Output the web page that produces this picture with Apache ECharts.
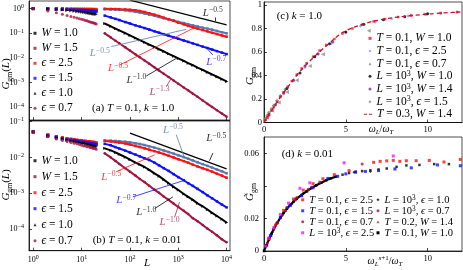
<!DOCTYPE html>
<html><head><meta charset="utf-8">
<script src="https://cdn.jsdelivr.net/npm/echarts@6/dist/echarts.min.js"></script>
<style>html,body{margin:0;padding:0;background:#fff}#c{width:463px;height:270px}</style>
</head><body><div id="c"></div>
<script>
// ================= DATA =================
// Panels (a),(b): system sizes
const L_small = [1,2,3,4,5,6,7,8,9,10,11,12,13,14,15,16,17,18,19,20];
const L_large = [30,40,50,60,80,100,130,160,200,250,320,400,500,630,800,1000,1300,1600,2000,2500,3200,4000,5000,6300,8000,10000];
const logTicksX = [1,10,100,1000,10000];
const logTicksYa = [1e-4,1e-3,1e-2,1e-1,1];
const logTicksYb = [1e-4,1e-3,1e-2,1e-1];

// (a) T=0.1, k=1.0
const a_W10_s  = [1.0,0.98,0.97,0.96,0.95,0.95,0.94,0.93,0.93,0.92,0.92,0.91,0.91,0.9,0.9,0.89,0.89,0.88,0.88,0.87];
const a_W15_s  = [1.0,0.96,0.94,0.93,0.92,0.91,0.9,0.89,0.88,0.88,0.87,0.86,0.86,0.85,0.85,0.84,0.84,0.83,0.83,0.82];
const a_e25_s  = [1.0,1.0,0.99,0.99,0.98,0.98,0.97,0.97,0.96,0.96,0.96,0.95,0.95,0.95,0.94,0.94,0.94,0.93,0.93,0.93];
const a_e15_s  = [1.0,0.99,0.97,0.95,0.93,0.91,0.9,0.88,0.87,0.86,0.85,0.84,0.83,0.82,0.81,0.8,0.79,0.78,0.77,0.76];
const a_e10_s  = [1.0,0.97,0.93,0.9,0.86,0.83,0.8,0.77,0.75,0.73,0.71,0.69,0.67,0.66,0.64,0.63,0.62,0.61,0.6,0.59];
const a_e07_s  = [1.0,0.8,0.68,0.59,0.52,0.48,0.45,0.42,0.39,0.37,0.35,0.33,0.32,0.3,0.29,0.28,0.27,0.26,0.25,0.24];
const a_e25_l  = [0.98,0.97,0.96,0.95,0.93,0.9,0.85,0.8,0.73,0.65,0.57,0.5,0.43,0.37,0.32,0.27,0.23,0.2,0.175,0.155,0.135,0.12,0.105,0.093,0.082,0.073];
const a_ref_l  = [0.95,0.93,0.91,0.89,0.85,0.8,0.74,0.69,0.63,0.57,0.51,0.46,0.41,0.37,0.33,0.29,0.26,0.235,0.21,0.19,0.17,0.155,0.14,0.125,0.11,0.1];
const a_e15_l  = [0.52,0.44,0.385,0.345,0.285,0.25,0.21,0.187,0.163,0.142,0.121,0.106,0.092,0.08,0.069,0.06,0.051,0.045,0.039,0.034,0.029,0.0253,0.022,0.019,0.0165,0.0144];
const a_e10_l  = [0.25,0.192,0.156,0.132,0.101,0.082,0.064,0.053,0.043,0.035,0.028,0.0226,0.0184,0.0148,0.0119,0.0096,0.0076,0.0062,0.0051,0.0041,0.0033,0.00265,0.00216,0.00174,0.00139,0.00113];
const a_e07_l  = [0.1,0.068,0.05,0.0395,0.027,0.02,0.0141,0.0107,0.0079,0.0059,0.0042,0.0031,0.0023,0.0017,0.00123,0.00091,0.00064,0.00049,0.00036,0.00027,0.00019,0.00014,0.000105,0.000077,0.000056,0.000042];
const a_fit    = [[100,2.2],[10000,0.22]];
const a_ptr    = [ [[5900,0.44],[5900,0.31]], [[41,0.029],[1460,0.145]], [[61,0.0052],[2170,0.169]],
                   [[5190,0.0132],[4070,0.0225]], [[218,0.00187],[910,0.0097]], [[565,0.00069],[716,0.0015]] ];
const a_lbl    = [ [5190,0.68,'−0.5'], [23.7,0.0155,'−0.5'], [56.5,0.0038,'−0.5'],
                   [6100,0.0071,'−0.7'], [136,0.0013,'−1.0'], [411,0.00043,'−1.3'] ];

// (b) T=0.1, k=0.01
const b_W10_s  = [0.053,0.043,0.038,0.035,0.033,0.032,0.031,0.030,0.029,0.029,0.028,0.028,0.027,0.027,0.026,0.026,0.026,0.025,0.025,0.025];
const b_W15_s  = [0.050,0.039,0.035,0.033,0.031,0.030,0.029,0.028,0.027,0.027,0.026,0.026,0.025,0.025,0.024,0.024,0.024,0.023,0.023,0.023];
const b_e25_s  = [0.052,0.042,0.038,0.036,0.034,0.033,0.032,0.031,0.030,0.030,0.029,0.029,0.028,0.028,0.028,0.027,0.027,0.027,0.026,0.026];
const b_e15_s  = [0.052,0.041,0.037,0.034,0.032,0.031,0.030,0.029,0.028,0.027,0.027,0.026,0.026,0.025,0.025,0.024,0.024,0.024,0.023,0.023];
const b_e10_s  = [0.052,0.040,0.036,0.033,0.031,0.029,0.028,0.027,0.026,0.025,0.025,0.024,0.023,0.023,0.022,0.022,0.021,0.021,0.021,0.020];
const b_e07_s  = [0.053,0.038,0.033,0.030,0.028,0.026,0.025,0.024,0.023,0.022,0.021,0.021,0.020,0.020,0.019,0.019,0.018,0.018,0.018,0.017];
const b_e25_l  = [0.029,0.028,0.027,0.026,0.0245,0.023,0.021,0.0195,0.018,0.0165,0.015,0.0137,0.0125,0.0112,0.0100,0.0089,0.0079,0.0071,0.0063,0.0056,0.0050,0.0045,0.0040,0.0035,0.0031,0.0027];
const b_ref_l  = [0.030,0.0295,0.029,0.0285,0.0275,0.0265,0.025,0.0237,0.0222,0.0205,0.0188,0.0172,0.0157,0.0142,0.0128,0.0115,0.0102,0.0092,0.0082,0.0073,0.0065,0.0058,0.0052,0.0046,0.0041,0.0036];
const b_e15_l  = [0.024,0.0219,0.0195,0.0178,0.0155,0.0138,0.012,0.0107,0.0095,0.0085,0.0072,0.006,0.005,0.0042,0.0034,0.0028,0.0023,0.0019,0.0016,0.00132,0.00107,0.00087,0.00072,0.00059,0.00048,0.0004];
const b_e10_l  = [0.018,0.0158,0.0138,0.0123,0.0102,0.0087,0.0072,0.0063,0.0054,0.0045,0.0036,0.003,0.0024,0.0019,0.0015,0.00123,0.00095,0.00079,0.00065,0.00052,0.00043,0.00035,0.00028,0.00023,0.000186,0.00015];
const b_e07_l  = [0.013,0.010,0.008,0.0066,0.005,0.004,0.0031,0.0025,0.00204,0.00162,0.00126,0.00102,0.00081,0.00065,0.00051,0.00041,0.00032,0.00026,0.0002,0.000165,0.000129,0.000102,0.000083,0.000066,0.000051,0.000042];
const b_fit    = [[100,0.048],[10000,0.0048]];
const b_ptr    = [ [[5190,0.0132],[4430,0.0081]], [[909,0.043],[1350,0.0095]], [[52,0.004],[324,0.0118]],
                   [[115,0.00079],[1350,0.0023]], [[324,0.00037],[774,0.00079]], [[835,0.00021],[1060,0.00056]] ];
const b_lbl    = [ [6100,0.0347,'−0.5'], [774,0.0596,'−0.5'], [41,0.0029,'−0.5'],
                   [84,0.00063,'−0.7'], [218,0.000295,'−1.0'], [661,0.000155,'−1.0'] ];

// (c) k = 1.0
const c_x_red = [0.1,0.2,0.3,0.45,0.6,0.8,1.0,1.2,1.45,1.7,2.0,2.3,2.6,3.0,3.4,3.8,4.3,4.8,5.4,6.0,6.7,7.4,8.2,9.0,9.9,10.8,11.8];
const c_red   = [0.023,0.045,0.067,0.1,0.132,0.175,0.218,0.258,0.305,0.352,0.408,0.46,0.505,0.56,0.612,0.66,0.71,0.757,0.8,0.832,0.86,0.88,0.897,0.91,0.921,0.931,0.939];
const c_x_blu = [0.3,0.7,1.2,1.8,2.5,3.3,4.1,5.0,5.9,6.8,7.8,8.8,9.8,10.8,11.8];
const c_blu   = [0.06,0.15,0.245,0.355,0.47,0.58,0.67,0.765,0.82,0.855,0.882,0.905,0.92,0.93,0.94];
const c_x_gry = [0.2,0.5,0.9,1.4,2.0,2.8,3.6,6.4];
const c_gry   = [0.04,0.1,0.17,0.26,0.36,0.48,0.58,0.78];
const c_x_blk = [1.4,2.2,3.1,4.0,5.0,6.1,7.3,8.6,10.0];
const c_blk   = [0.29,0.42,0.56,0.67,0.77,0.835,0.875,0.9,0.925];
const c_x_pur = [0.3,0.7,1.2,1.8,2.5,3.3,4.2];
const c_pur   = [0.065,0.15,0.25,0.36,0.48,0.585,0.685];
const c_x_grn = [0.05,0.1,0.2,0.3,0.45,0.6,0.8,1.0,1.3];
const c_grn   = [0.02,0.035,0.06,0.085,0.115,0.145,0.185,0.225,0.28];
const c_x_dsh = [0,0.5,1,1.5,2,2.5,3,3.5,4,4.5,5,5.5,6,6.5,7,7.5,8,8.5,9,9.5,10,10.5,11,11.5,12];
const c_dsh   = [0,0.11,0.215,0.31,0.4,0.48,0.55,0.615,0.675,0.735,0.78,0.81,0.835,0.855,0.87,0.883,0.894,0.902,0.91,0.916,0.922,0.927,0.932,0.936,0.94];

// (d) k = 0.01
const d_x_red = [0.3,0.7,1.2,1.8,2.4,3.0,3.6,4.3,5.2,6.7,7.1,7.5,7.9,8.3,8.7,9.3,10.1,11.0,12.0];
const d_red   = [0.0075,0.016,0.025,0.032,0.0375,0.0415,0.0445,0.047,0.0495,0.0546,0.0552,0.0555,0.0558,0.0552,0.0556,0.0556,0.0558,0.0548,0.0564];
const d_x_blu = [0.4,1.0,1.6,2.3,3.0,3.9,4.5,5.0,5.6,6.2,7.0,8.0,9.0,10.6,12.0];
const d_blu   = [0.0095,0.0205,0.028,0.034,0.039,0.0447,0.046,0.0475,0.0485,0.049,0.0495,0.0505,0.0512,0.053,0.0525];
const d_x_mr1 = [0.3,0.8,1.4,2.0,2.7,3.4];
const d_mr1   = [0.008,0.0175,0.027,0.033,0.038,0.0425];
const d_x_mag = [0.1,0.3,0.6,1.0,1.5,2.2,2.8,4.9,7.9];
const d_mag   = [0.003,0.008,0.0145,0.0225,0.0295,0.0386,0.042,0.0543,0.0585];
const d_x_bk2 = [0.5,1.1,1.7,2.4,3.2,4.0,5.5,6.5];
const d_bk2   = [0.0115,0.022,0.029,0.0355,0.0405,0.0445,0.0485,0.049];
const d_x_mr2 = [0.2,0.6,1.1,1.9,2.9,6.0];
const d_mr2   = [0.005,0.0135,0.022,0.0318,0.0392,0.0535];
const d_x_brn = [0.15,0.4,0.8,1.3,1.9,2.6];
const d_brn   = [0.0035,0.0095,0.0175,0.025,0.0315,0.037];
const d_x_blk = [0,0.15,0.3,0.45,0.6,0.8,1.0,1.2,1.4,1.6,1.8,2.0,2.3,2.6,2.9,3.2,3.5,3.8,4.1,4.4];
const d_blk   = [0,0.0036,0.007,0.0105,0.0135,0.0172,0.0205,0.0235,0.026,0.0283,0.0303,0.0322,0.0345,0.0367,0.0388,0.0405,0.042,0.0435,0.0448,0.0458];
const d_x_blkT= [4.8,5.2,5.6,6.0,6.5,7.0,7.5,8.1,8.7,9.5,10.4,11.3];
const d_blkT  = [0.047,0.048,0.0488,0.0492,0.0497,0.0502,0.0508,0.0518,0.0527,0.053,0.0535,0.0535];

// ================= STYLE / BUILD =================
const FONT = "'Liberation Serif','DejaVu Serif',serif";
const COL = {red:'#ff1010', blue:'#1010ff', black:'#000000', maroon:'#a3143f', maroonW:'#8a1a48',
  steel:'#5878b0', lblue:'#7f96ff', grey:'#8a8a8a', purple:'#7a2d9a', green:'#6f8f6f', dash:'#c8102e',
  magenta:'#ff10ff', brown:'#9b3b3b'};
function mkRich(F, LH){
  return {
    i:{fontStyle:'italic', fontSize:F, lineHeight:LH, fontFamily:FONT},
    n:{fontSize:F, lineHeight:LH, fontFamily:FONT},
    s:{fontSize:F*0.7, lineHeight:F*0.62, verticalAlign:'top', fontFamily:FONT},
    si:{fontStyle:'italic', fontSize:F*0.7, lineHeight:F*0.62, verticalAlign:'top', fontFamily:FONT},
    b:{fontSize:F*0.7, lineHeight:F*0.62, verticalAlign:'bottom', fontFamily:FONT},
    bi:{fontStyle:'italic', fontSize:F*0.7, lineHeight:F*0.62, verticalAlign:'bottom', fontFamily:FONT}
  };
}
const LBL = {
  aW10:'{i|W} = 1.0', aW15:'{i|W} = 1.5', ae25:'{i|ϵ} = 2.5', ae15:'{i|ϵ} = 1.5', ae10:'{i|ϵ} = 1.0', ae07:'{i|ϵ} = 0.7',
  bW10:'{i|W} = 1.0', bW15:'{i|W} = 1.5', be25:'{i|ϵ} = 2.5', be15:'{i|ϵ} = 1.5', be10:'{i|ϵ} = 1.0', be07:'{i|ϵ} = 0.7',
  c1:'{i|T} = 0.1, {i|W} = 1.0', c2:'{i|T} = 0.1, {i|ϵ} = 2.5', c3:'{i|T} = 0.1, {i|ϵ} = 0.7',
  c4:'{i|L} = 10{s|3}, {i|W} = 1.0', c5:'{i|L} = 10{s|3}, {i|W} = 1.4', c6:'{i|L} = 10{s|3}, {i|ϵ} = 1.5', c7:'{i|T} = 0.3, {i|W} = 1.4',
  d1:'{i|T} = 0.1, {i|ϵ} = 2.5', d2:'{i|T} = 0.1, {i|ϵ} = 1.5', d3:'{i|T} = 0.1, {i|ϵ} = 0.7', d4:'{i|L} = 10{s|3}, {i|ϵ} = 2.5',
  d5:'{i|L} = 10{s|3}, {i|ϵ} = 1.0', d6:'{i|L} = 10{s|3}, {i|ϵ} = 0.7', d7:'{i|T} = 0.2, {i|W} = 1.4', d8:'{i|T} = 0.1, {i|W} = 1.0'
};
function pts(xs, ys){ return xs.map((x,i)=>[x, ys[i]]); }
function scat(name, gi, xs, ys, sym, size, color, rot){
  return {type:'scatter', name, xAxisIndex:gi, yAxisIndex:gi, data:pts(xs,ys), silent:true, z:3,
    symbol:sym, symbolSize:size, symbolRotate:rot||0, itemStyle:{color}};
}
function band(name, gi, xs, ys, sym, size, color, rot, w){
  return {type:'line', name, xAxisIndex:gi, yAxisIndex:gi, data:pts(xs,ys), silent:true, z:3,
    showSymbol:true, symbol:sym, symbolSize:size, symbolRotate:rot||0, itemStyle:{color},
    lineStyle:{color, width:w||2}};
}
function seg(gi, p, color, w, dash){
  return {type:'line', xAxisIndex:gi, yAxisIndex:gi, data:p, silent:true, z:5, showSymbol:false, symbol:'none',
    lineStyle:{color, width:w, type:dash||'solid'}};
}
const ANN_COL = ['#000000', COL.steel, COL.red, COL.blue, '#000000', '#b0204a'];
function labels(gi, arr){
  const R = mkRich(11, 13);
  return {type:'scatter', xAxisIndex:gi, yAxisIndex:gi, silent:true, z:6, symbol:'circle', symbolSize:1,
    itemStyle:{color:'rgba(0,0,0,0)'},
    data: arr.map((d,k)=>({value:[d[0],d[1]], label:{show:true, position:'inside', color:ANN_COL[k],
      fontFamily:FONT, fontSize:11, lineHeight:13, formatter:'{i|L}{s|'+d[2]+'}', rich:R}}))};
}
const supFmt = v => { const e = Math.round(Math.log10(v)); return '10{s|' + (e<0 ? '−'+(-e) : e) + '}'; };
const tickRich = {s:{fontSize:6, lineHeight:5, verticalAlign:'top', fontFamily:FONT}};
function logAxis(gi, mn, mx, ticks, showLab, margin){
  return {type:'log', logBase:10, gridIndex:gi, min:mn, max:mx,
    axisLine:{show:true, lineStyle:{color:'#000', width:0.8}},
    axisTick:{show:true, inside:true, length:3, customValues:ticks, lineStyle:{color:'#000', width:0.7}},
    axisLabel:{show:showLab, customValues:ticks, formatter:supFmt, margin:margin, color:'#000',
      fontFamily:FONT, fontSize:8, lineHeight:10, rich:tickRich},
    splitLine:{show:false}, minorTick:{show:false}, minorSplitLine:{show:false}};
}
function valAxis(gi, mn, mx, labs, ticks, margin, fmt){
  return {type:'value', gridIndex:gi, min:mn, max:mx,
    axisLine:{show:true, onZero:false, lineStyle:{color:'#000', width:0.8}},
    axisTick:{show:true, inside:true, length:3, customValues:ticks, lineStyle:{color:'#000', width:0.7}},
    axisLabel:{show:true, customValues:labs, margin:margin, color:'#000', fontFamily:FONT, fontSize:8.5, formatter:fmt},
    splitLine:{show:false}};
}
const plainFmt = v => String(v);

const series = [
  // (a)
  scat('aW10',0,L_small,a_W10_s,'rect',3,COL.black),
  scat('aW15',0,L_small,a_W15_s,'rect',3,COL.maroonW),
  scat('ae25',0,L_small,a_e25_s,'rect',3,COL.red),
  scat('ae15',0,L_small,a_e15_s,'rect',3,COL.blue),
  scat('ae10',0,L_small,a_e10_s,'triangle',3.5,COL.black,-90),
  scat('ae07',0,L_small,a_e07_s,'circle',3,COL.maroon),
  band('aRef',0,L_large,a_ref_l,'rect',2.5,COL.steel),
  band('ae25',0,L_large,a_e25_l,'rect',2.5,COL.red),
  band('ae15',0,L_large,a_e15_l,'rect',2.5,COL.blue),
  band('ae10',0,L_large,a_e10_l,'triangle',3,COL.black,-90),
  band('ae07',0,L_large,a_e07_l,'circle',2.5,COL.maroon),
  seg(0,a_fit,'#000',1.2),
  // (b)
  scat('bW10',1,L_small,b_W10_s,'rect',3,COL.black),
  scat('bW15',1,L_small,b_W15_s,'rect',3,COL.maroonW),
  scat('be25',1,L_small,b_e25_s,'rect',3,COL.red),
  scat('be15',1,L_small,b_e15_s,'rect',3,COL.blue),
  scat('be10',1,L_small,b_e10_s,'triangle',3.5,COL.black,-90),
  scat('be07',1,L_small,b_e07_s,'circle',3,COL.maroon),
  band('bRef',1,L_large,b_ref_l,'rect',2.5,COL.steel),
  band('be25',1,L_large,b_e25_l,'rect',2.5,COL.red),
  band('be15',1,L_large,b_e15_l,'rect',2.5,COL.blue),
  band('be10',1,L_large,b_e10_l,'triangle',3,COL.black,-90),
  band('be07',1,L_large,b_e07_l,'circle',2.5,COL.maroon),
  seg(1,b_fit,'#000',1.2),
  // (c)
  scat('c6',2,c_x_grn,c_grn,'diamond',4,COL.green),
  scat('c3',2,c_x_gry,c_gry,'triangle',4,COL.grey,90),
  scat('c2',2,c_x_blu,c_blu,'diamond',3.5,COL.lblue),
  scat('c5',2,c_x_pur,c_pur,'circle',3,COL.purple),
  scat('c1',2,c_x_red,c_red,'rect',2.5,COL.red),
  scat('c4',2,c_x_blk,c_blk,'circle',3,COL.black),
  {type:'line', name:'c7', xAxisIndex:2, yAxisIndex:2, data:pts(c_x_dsh,c_dsh), silent:true, z:4, showSymbol:false,
    symbol:'none', smooth:true, itemStyle:{color:COL.dash}, lineStyle:{color:COL.dash, width:1.3, type:[4,3]}},
  // (d)
  scat('d7',3,d_x_brn,d_brn,'triangle',3.5,COL.brown,90),
  band('d8',3,d_x_blk,d_blk,'rect',2.5,COL.black,0,2.2),
  scat('d8',3,d_x_blkT,d_blkT,'rect',2.5,COL.black),
  scat('d5',3,d_x_bk2,d_bk2,'diamond',3,COL.black),
  scat('d3',3,d_x_mr1,d_mr1,'circle',3,COL.maroon),
  scat('d6',3,d_x_mr2,d_mr2,'circle',3,COL.maroon),
  scat('d4',3,d_x_mag,d_mag,'rect',3,COL.magenta),
  scat('d2',3,d_x_blu,d_blu,'rect',3,COL.blue),
  scat('d1',3,d_x_red,d_red,'rect',3,COL.red)
];
a_ptr.forEach((p,k)=>series.push(seg(0,p,ANN_COL[k],0.8)));
b_ptr.forEach((p,k)=>series.push(seg(1,p,ANN_COL[k],0.8)));
series.push(labels(0,a_lbl));
series.push(labels(1,b_lbl));

function legend(names, icons, left, top, F, LH, extra){
  return Object.assign({
    orient:'vertical', left, top, padding:0, itemGap:0, itemWidth:3, itemHeight:3, selectedMode:false,
    data: names.map((n,k)=>({name:n, icon:icons[k]})),
    formatter: n => LBL[n],
    textStyle:{fontFamily:FONT, fontSize:F, lineHeight:LH, color:'#000', rich:mkRich(F,LH)}
  }, extra||{});
}
const iconsAB = ['rect','rect','rect','rect','triangle','circle'];

function T(x, y, text, F, opts){
  return Object.assign({type:'text', x, y, silent:true, z:10,
    style:Object.assign({text, fill:'#000', font:F+'px '+FONT, align:'left', verticalAlign:'middle', rich:mkRich(F, F+3)}, (opts&&opts.style)||{})},
    opts && opts.rotation ? {rotation:opts.rotation} : {});
}
const ROT = Math.PI/2;

const option = {
  animation:false,
  backgroundColor:'#ffffff',
  grid:[
    {left:29, top:1, width:201, height:119, show:true, borderColor:'#222', borderWidth:0.8},
    {left:29, top:121, width:201, height:129.7, show:true, borderColor:'#222', borderWidth:0.8},
    {left:264, top:2, width:198, height:120.5, show:true, borderColor:'#222', borderWidth:0.8},
    {left:264, top:137, width:198, height:114, show:true, borderColor:'#222', borderWidth:0.8}
  ],
  xAxis:[
    logAxis(0, Math.pow(10,-0.089), Math.pow(10,4.07), logTicksX, false, 4),
    logAxis(1, Math.pow(10,-0.089), Math.pow(10,4.07), logTicksX, true, 4),
    valAxis(2, 0, 12.1, [0,5,10], [0,5,10], 3, plainFmt),
    valAxis(3, 0, 12.1, [0,5,10], [0,5,10], 3, plainFmt)
  ],
  yAxis:[
    logAxis(0, Math.pow(10,-4.51), Math.pow(10,0.308), logTicksYa, true, 5),
    logAxis(1, Math.pow(10,-4.61), Math.pow(10,-0.98), logTicksYb, true, 5),
    valAxis(2, 0, 1.025, [0,0.2,0.4,0.6,0.8,1], [0,0.2,0.4,0.6,0.8,1], 2, plainFmt),
    valAxis(3, 0, 0.0702, [0,0.02,0.06], [0,0.02,0.04,0.06], 5, plainFmt)
  ],
  legend:[
    legend(['aW10','aW15','ae25','ae15','ae10','ae07'], iconsAB, 33.5, 25.8, 11.5, 15),
    legend(['bW10','bW15','be25','be15','be10','be07'], iconsAB, 33.5, 152.7, 11.5, 16),
    legend(['c1','c2','c3','c4','c5','c6'], ['rect','diamond','triangle','circle','circle','diamond'], 368.5, 32, 11.5, 12.66),
    legend(['c7'], ['path://M0,0h3v1h-3zM5,0h3v1h-3z'], 364, 108, 11.5, 12.66, {itemWidth:8, itemHeight:1.3}),
    legend(['d1','d2','d3','d4'], ['rect','rect','circle','rect'], 301.2, 194.3, 10.5, 10),
    legend(['d5','d6','d7','d8'], ['diamond','circle','triangle','rect'], 376.5, 194.3, 10.5, 10)
  ],
  graphic:[
    T(6.5, 74, '{i|G}{b|gm}({i|L})', 11, {rotation:ROT, style:{align:'center'}}),
    T(6.5, 185, '{i|G}{b|gm}({i|L})', 11, {rotation:ROT, style:{align:'center'}}),
    T(147, 263, '{i|L}', 11, {style:{align:'center'}}),
    T(250.5, 76, '{i|G}{b|gm}', 11, {rotation:ROT, style:{align:'center'}}),
    T(250.5, 192, '{i|G̃}{b|gm}', 11, {rotation:ROT, style:{align:'center'}}),
    T(381, 129, '{i|ω}{bi|L}/{i|ω}{bi|T}', 10, {style:{align:'center'}}),
    T(385, 261, '{i|ω}{bi|L}{si|s}{s|+1}/{i|ω}{bi|T}', 10, {style:{align:'center'}}),
    T(92, 108, '(a) {i|T} = 0.1, {i|k} = 1.0', 11),
    T(92.7, 240, '(b) {i|T} = 0.1, {i|k} = 0.01', 11),
    T(276.7, 16, '(c) {i|k} = 1.0', 11),
    T(281.7, 154, '(d) {i|k} = 0.01', 11)
  ],
  series
};
const chart = echarts.init(document.getElementById('c'), null, {renderer:'canvas'});
chart.setOption(option);
</script></body></html>
